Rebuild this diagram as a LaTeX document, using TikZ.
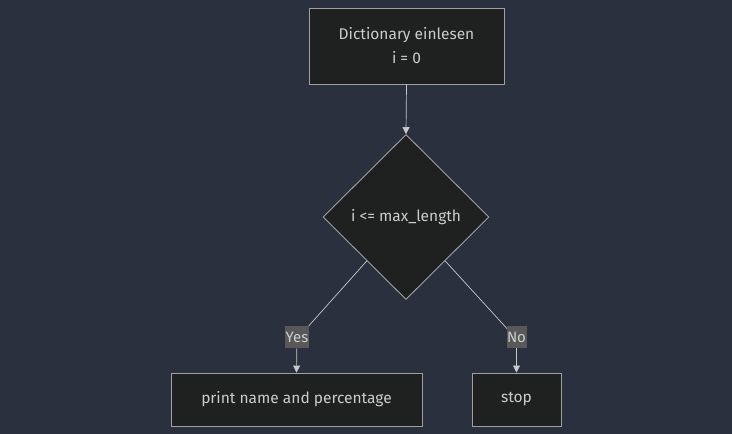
\documentclass[tikz,border=0pt]{standalone}
\usepackage{fontspec}
\setmainfont{Fira Sans}
\usetikzlibrary{arrows.meta,shapes.geometric,calc}
\definecolor{bgc}{HTML}{2B303E}
\definecolor{boxfill}{HTML}{1F2020}
\definecolor{boxline}{HTML}{A0A0A0}
\definecolor{txt}{HTML}{CCCCCC}
\definecolor{lnc}{HTML}{C8C8C8}
\definecolor{lblbg}{HTML}{585858}
\tikzset{
  procbox/.style={draw=boxline, fill=boxfill, line width=0.9pt, text=txt, font=\fontsize{15.5}{24}\selectfont, align=center, inner sep=0pt},
  decision/.style={draw=boxline, fill=boxfill, line width=0.9pt, diamond, text=txt, font=\fontsize{15.5}{18}\selectfont, minimum width=166pt, minimum height=165pt, inner sep=0pt},
  edgelbl/.style={fill=lblbg, text=txt, font=\fontsize{15}{18}\selectfont, inner sep=0.5pt, minimum height=22pt},
  conn/.style={draw=lnc, line width=0.7pt},
  arr/.style={conn, -{Triangle[length=7pt,width=7pt]}}
}
\begin{document}
\begin{tikzpicture}[x=1pt,y=-1pt]
\fill[bgc] (0,0) rectangle (732,434);
\useasboundingbox (0,0) rectangle (732,434);
\node[procbox, minimum width=195pt, minimum height=76pt] (read) at (406.5,46) {Dictionary einlesen\\i = 0};
\node[decision] (dec) at (406,217) {i <= max\_length};
\node[procbox, minimum width=251pt, minimum height=53pt] (print) at (296.5,399.5) {print name and percentage};
\node[procbox, minimum width=89pt, minimum height=53pt] (stop) at (516.5,399.5) {stop};
\coordinate (yl) at (297,339);
\coordinate (nl) at (516.5,339);
\draw[arr] (read.south) -- (dec.north);
\draw[conn] ($(dec.west)!0.53!(dec.south)$) -- (yl);
\draw[arr] (yl) -- (print.north);
\draw[conn] ($(dec.east)!0.53!(dec.south)$) -- (nl);
\draw[arr] (nl) -- (stop.north);
\node[edgelbl] (yes) at (297,337) {Yes};
\node[edgelbl] (no) at (516.5,337) {No};
\end{tikzpicture}
\end{document}
